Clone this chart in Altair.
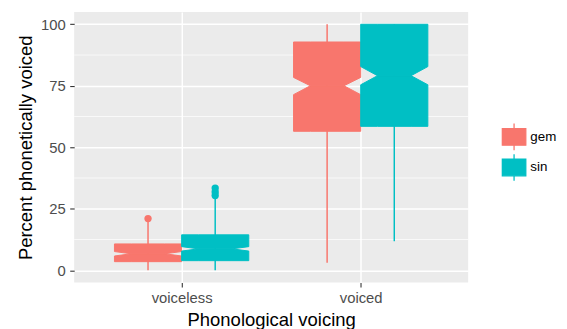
import altair as alt
import pandas as pd

# ---- data ----
categories = ["voiceless", "voiced"]
groups = ["gem", "sin"]
group_colors = ["#F8766D", "#00BFC4"]

box_category = ["voiceless", "voiceless", "voiced", "voiced"]
box_group = ["gem", "sin", "gem", "sin"]
whisker_low = [0.0, 0.0, 3.0, 11.8]
quart_1 = [3.5, 3.9, 56.5, 58.5]
notch_low = [5.8, 7.8, 71.4, 75.4]
median = [6.7, 8.7, 75.0, 79.1]
notch_high = [7.6, 9.6, 78.4, 82.8]
quart_3 = [10.7, 14.4, 92.8, 100.0]
whisker_high = [20.0, 29.2, 100.0, 100.0]

outlier_category = ["voiceless", "voiceless", "voiceless", "voiceless"]
outlier_group = ["gem", "sin", "sin", "sin"]
outlier_value = [21.0, 30.4, 31.8, 33.4]

minor_grid = [12.5, 37.5, 62.5, 87.5]
major_ticks = [0, 25, 50, 75, 100]

# ---- layout of dodged boxes (ggplot default: width 0.75, dodged in two) ----
box_width = 0.375
dodge = {g: (i - 0.5) * box_width for i, g in enumerate(groups)}
indent = box_width * 0.25


def center(cat, grp):
    return categories.index(cat) + 1 + dodge[grp]


whisk = pd.DataFrame({
    "group": box_group,
    "xc": [center(c, g) for c, g in zip(box_category, box_group)],
    "lo": whisker_low,
    "hi": whisker_high,
})

# each notched box = lower half + upper half (ranged areas along x)
rows = []
for i, (c, g) in enumerate(zip(box_category, box_group)):
    xc = center(c, g)
    left, right = xc - box_width / 2, xc + box_width / 2
    xs = [left, left + indent, right - indent, right]
    lower_top = [notch_low[i], median[i], median[i], notch_low[i]]
    upper_bot = [notch_high[i], median[i], median[i], notch_high[i]]
    for xv, t in zip(xs, lower_top):
        rows.append({"part": f"{i}-lo", "group": g, "x": xv, "ya": quart_1[i], "yb": t})
    for xv, b in zip(xs, upper_bot):
        rows.append({"part": f"{i}-hi", "group": g, "x": xv, "ya": b, "yb": quart_3[i]})
boxes = pd.DataFrame(rows)

outl = pd.DataFrame({
    "group": outlier_group,
    "xc": [center(c, g) for c, g in zip(outlier_category, outlier_group)],
    "v": outlier_value,
})
minor = pd.DataFrame({"m": minor_grid})

FONT = "Liberation Sans"
label_expr = "[" + ",".join("'%s'" % c for c in categories) + "][round(datum.value) - 1]"

x_scale = alt.Scale(domain=[0.4, 2.6], nice=False, zero=False)
y_scale = alt.Scale(domain=[-5, 105], nice=False, zero=False)

x_axis = alt.Axis(values=[1, 2], labelExpr=label_expr, grid=True, gridColor="white",
                  gridWidth=1.5, domain=False, tickColor="#333333", tickSize=4.5,
                  tickWidth=1.1, labelColor="#4D4D4D", labelFontSize=15,
                  labelPadding=4, labelFont=FONT, title="Phonological voicing",
                  titleFont=FONT, titleFontSize=18.7, titleFontWeight="normal",
                  titleColor="black", titlePadding=5)
y_axis = alt.Axis(values=major_ticks, grid=True, gridColor="white", gridWidth=1.5,
                  domain=False, tickColor="#333333", tickSize=4.5, tickWidth=1.1,
                  labelColor="#4D4D4D", labelFontSize=15, labelPadding=4.5,
                  labelFont=FONT, title="Percent phonetically voiced", titleFont=FONT,
                  titleFontSize=18.7, titleFontWeight="normal", titleColor="black",
                  titlePadding=5)

color_scale = alt.Scale(domain=groups, range=group_colors)

legend_path = "M-0.88,-0.62H0.88V0.62H-0.88Z M0,-1V-0.62 M0,0.62V1"
legend = alt.Legend(
    title=None, orient="none", legendX=431, legendY=112,
    symbolType=legend_path, symbolSize=729, labelFontSize=13.5, labelFont=FONT,
    labelColor="black", labelOffset=2, rowPadding=-6.7, padding=0,
    symbolStrokeWidth=1.3, symbolOpacity=1,
)

minor_layer = alt.Chart(minor).mark_rule(color="white", strokeWidth=0.7).encode(
    y=alt.Y("m:Q", scale=y_scale, axis=y_axis)
)

whisker_layer = alt.Chart(whisk).mark_rule(strokeWidth=1.5).encode(
    x=alt.X("xc:Q", scale=x_scale, axis=x_axis),
    y=alt.Y("lo:Q", scale=y_scale, axis=y_axis),
    y2="hi:Q",
    color=alt.Color("group:N", scale=color_scale, legend=legend),
)

box_layer = alt.Chart(boxes).mark_area(orient="vertical", opacity=1, strokeWidth=1,
                                       interpolate="linear").encode(
    x=alt.X("x:Q", scale=x_scale, axis=x_axis),
    y=alt.Y("ya:Q", scale=y_scale, axis=y_axis, stack=False),
    y2="yb:Q",
    color=alt.Color("group:N", scale=color_scale, legend=legend),
    stroke=alt.Stroke("group:N", scale=color_scale, legend=legend),
    detail="part:N",
)

outlier_layer = alt.Chart(outl).mark_circle(size=55, opacity=1).encode(
    x=alt.X("xc:Q", scale=x_scale, axis=x_axis),
    y=alt.Y("v:Q", scale=y_scale, axis=y_axis),
    color=alt.Color("group:N", scale=color_scale, legend=legend),
)

chart = alt.layer(minor_layer, whisker_layer, box_layer, outlier_layer).properties(
    width=399, height=274,
    autosize=alt.AutoSizeParams(type="none"),
    padding={"left": 67, "top": 2, "right": 92, "bottom": 45},
).configure_view(fill="#EBEBEB", strokeWidth=0)

chart.save("out.html", embed_options={"renderer": "svg", "actions": False})
